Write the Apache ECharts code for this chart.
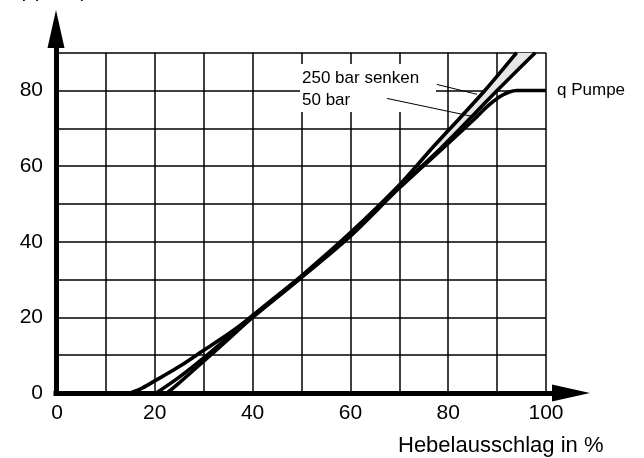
<!DOCTYPE html>
<html>
<head>
<meta charset="utf-8">
<script src="https://cdn.jsdelivr.net/npm/echarts@6/dist/echarts.min.js"></script>
<style>html,body{margin:0;padding:0;background:#fff;}#c{width:644px;height:458px;}</style>
</head>
<body>
<div id="c"></div>
<script>
// Data (x: Hebelausschlag in %, y: q in l/min)
const xTickLabels = [0, 20, 40, 60, 80, 100];
const yTickLabels = [0, 20, 40, 60, 80];
const qPumpe = [[15,0],[17,1],[20,3.2],[25,7],[30,11.3],[35,15.6],[40,20.4],[50,30.6],[60,41.5],[70,54.2],[80,66],[85,72],[88,75.8],[90.6,78.4],[92.5,79.6],[94,80],[100,80]];
const bar250senken = [[20.3,0],[25,4.2],[30,9.3],[35,14.8],[40,20.5],[50,31],[60,42.4],[70,55],[77,65.2],[80,69.4],[87.5,80],[94,90]];
const bar50 = [[22.5,0],[25,2.7],[30,8.4],[35,14.2],[40,20],[50,30.6],[60,42],[70,54.4],[79,65.4],[90,80],[97.8,90]];
const leader250 = [[77.7,81.6],[85.9,79]];
const leader50 = [[67.5,77.9],[85.1,73.1]];
const labelTexts = ['250 bar senken', '50 bar', 'q Pumpe', 'Hebelausschlag in %', 'q (l/min)'];

const FONT = '"Liberation Sans", Arial, Helvetica, sans-serif';
const chart = echarts.init(document.getElementById('c'), null, {renderer: 'canvas'});

const band = bar250senken.filter(p => p[1] >= 58).concat(bar50.filter(p => p[1] >= 58).slice().reverse());

const thinLine = {color: '#000', width: 1};
const curveStyle = {color: '#000', width: 3.6};
const arrowAxis = {show: true, symbol: ['none', 'triangle'], symbolSize: [17, 38], lineStyle: {color: '#000', width: 5, cap: 'square'}};

const option = {
  animation: false,
  backgroundColor: '#fff',
  grid: [
    {left: 57, right: 98, top: 52.7, bottom: 65},
    {left: 56, right: 73, top: 29, bottom: 65}
  ],
  xAxis: [
    {gridIndex: 0, type: 'value', min: 0, max: 100, interval: 10,
     axisLine: {show: false}, axisTick: {show: false},
     splitLine: {show: true, lineStyle: {color: '#000', width: 1.5}},
     axisLabel: {formatter: v => xTickLabels.includes(v) ? String(v) : '', fontSize: 21, color: '#000', margin: 10, fontFamily: FONT}},
    {gridIndex: 1, type: 'value', min: 0, max: 1, axisLine: arrowAxis,
     axisTick: {show: false}, axisLabel: {show: false}, splitLine: {show: false}}
  ],
  yAxis: [
    {gridIndex: 0, type: 'value', min: 0, max: 90, interval: 10,
     axisLine: {show: false}, axisTick: {show: false},
     splitLine: {show: true, lineStyle: {color: '#000', width: 1.5}},
     axisLabel: {formatter: v => yTickLabels.includes(v) ? String(v) : '', fontSize: 21, color: '#000', margin: 14, fontFamily: FONT}},
    {gridIndex: 1, type: 'value', min: 0, max: 1, axisLine: arrowAxis,
     axisTick: {show: false}, axisLabel: {show: false}, splitLine: {show: false}}
  ],
  series: [
    {type: 'custom', xAxisIndex: 0, yAxisIndex: 0, silent: true, clip: true, z: 2,
     data: [[0, 0]],
     renderItem: (params, api) => ({
       type: 'polygon',
       shape: {points: band.map(p => api.coord(p))},
       style: {fill: '#e6e6e6'}
     })},
    {type: 'line', name: labelTexts[0], data: bar250senken, showSymbol: false, smooth: 0.3, clip: true, lineStyle: curveStyle, z: 3},
    {type: 'line', name: labelTexts[1], data: bar50, showSymbol: false, smooth: 0.3, clip: true, lineStyle: curveStyle, z: 3},
    {type: 'line', name: labelTexts[2], data: qPumpe, showSymbol: false, smooth: 0.3, clip: false, lineStyle: curveStyle, z: 3},
    {type: 'line', data: leader250, showSymbol: false, lineStyle: thinLine, z: 4},
    {type: 'line', data: leader50, showSymbol: false, lineStyle: thinLine, z: 4}
  ],
  graphic: [
    {type: 'rect', left: 300, top: 64, shape: {width: 136, height: 48}, style: {fill: '#fff'}, z: 1, silent: true},
    {type: 'text', left: 302, top: 70, z: 6, style: {text: labelTexts[0], font: '17px ' + FONT, fill: '#000'}},
    {type: 'text', left: 302, top: 92, z: 6, style: {text: labelTexts[1], font: '17px ' + FONT, fill: '#000'}},
    {type: 'text', left: 557, top: 82, z: 6, style: {text: labelTexts[2], font: '17px ' + FONT, fill: '#000'}},
    {type: 'text', left: 398, top: 435, z: 6, style: {text: labelTexts[3], font: '22px ' + FONT, fill: '#000'}},
    {type: 'text', left: 15, top: -19, z: 6, style: {text: labelTexts[4], font: '20px ' + FONT, fill: '#000'}}
  ]
};
chart.setOption(option);
</script>
</body>
</html>
